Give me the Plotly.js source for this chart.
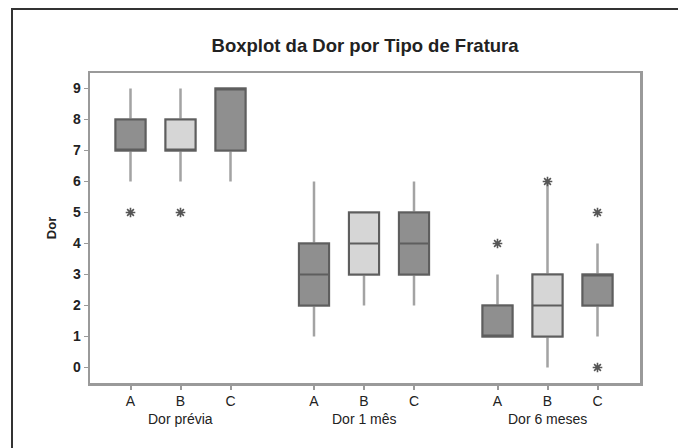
<!DOCTYPE html>
<html>
<head>
<meta charset="utf-8">
<script src="https://cdn.plot.ly/plotly-3.0.1.min.js"></script>
<style>html,body{margin:0;padding:0;background:#fff}#chart{width:678px;height:448px}</style>
</head>
<body>
<div id="chart"></div>
<script>
// ---- data ----
const groups = ['Dor prévia', 'Dor 1 mês', 'Dor 6 meses'];
const categories = ['A', 'B', 'C'];
// stats per category, one value per group (Dor prévia, Dor 1 mês, Dor 6 meses)
const q1 = { A: [7, 2, 1], B: [7, 3, 1], C: [7, 3, 2] };
const median = { A: [7, 3, 1], B: [7, 4, 2], C: [9, 4, 3] };
const q3 = { A: [8, 4, 2], B: [8, 5, 3], C: [9, 5, 3] };
const lowerWhisker = { A: [6, 1, 1], B: [6, 2, 0], C: [6, 2, 1] };
const upperWhisker = { A: [9, 6, 3], B: [9, 5, 6], C: [9, 6, 4] };
// outliers
const outlierGroup = [0, 0, 2, 2, 2, 2];
const outlierCat = [0, 1, 0, 1, 2, 2];
const outlierValue = [5, 5, 4, 6, 5, 0];

// ---- layout helpers ----
const groupStep = 3.67;
const pos = (g, c) => g * groupStep + c;
const fills = { A: '#8f8f8f', B: '#d6d6d6', C: '#8f8f8f' };
const FONT = 'Liberation Sans, Arial, sans-serif';

const traces = [];
categories.forEach((cat, ci) => {
  const xs = groups.map((g, gi) => pos(gi, ci));
  // whiskers (lighter grey)
  traces.push({
    type: 'box', x: xs, q1: q1[cat], median: median[cat], q3: q3[cat],
    lowerfence: lowerWhisker[cat], upperfence: upperWhisker[cat],
    width: 0.6, whiskerwidth: 0, fillcolor: fills[cat],
    line: { color: '#a3a3a3', width: 2.5 }, boxpoints: false,
    hoverinfo: 'skip', showlegend: false
  });
  // box body (darker outline + median)
  traces.push({
    type: 'box', x: xs, q1: q1[cat], median: median[cat], q3: q3[cat],
    lowerfence: q1[cat], upperfence: q3[cat],
    width: 0.6, whiskerwidth: 0, fillcolor: fills[cat],
    line: { color: '#5e5e5e', width: 2 }, boxpoints: false,
    name: cat, showlegend: false
  });
});
traces.push({
  type: 'scatter', mode: 'markers',
  x: outlierValue.map((v, i) => pos(outlierGroup[i], outlierCat[i])),
  y: outlierValue,
  marker: { symbol: 'asterisk-open', size: 8, color: '#555', line: { color: '#555', width: 1.6 } },
  showlegend: false, hoverinfo: 'y'
});

const tickvals = [], ticktext = [];
groups.forEach((g, gi) => categories.forEach((c, ci) => { tickvals.push(pos(gi, ci)); ticktext.push(c); }));

const annotations = groups.map((g, gi) => ({
  text: g, x: pos(gi, 1), xref: 'x', y: (383 - 419) / 310, yref: 'paper',
  yanchor: 'middle', showarrow: false,
  font: { family: FONT, size: 14, color: '#222' }
}));

const layout = {
  width: 678, height: 448,
  margin: { l: 90, r: 38, t: 73, b: 65 },
  paper_bgcolor: '#fff', plot_bgcolor: '#fff',
  boxmode: 'overlay',
  font: { family: FONT, color: '#222' },
  title: {
    text: '<b>Boxplot da Dor por Tipo de Fratura</b>',
    x: 0.5385, xanchor: 'center', y: 1 - 46 / 448, yanchor: 'middle',
    font: { size: 18.5, color: '#222' }
  },
  xaxis: {
    range: [-0.81, 10.19], tickvals: tickvals, ticktext: ticktext,
    showgrid: false, zeroline: false,
    showline: true, mirror: true, linecolor: '#9a9a9a', linewidth: 2.5,
    ticks: 'outside', ticklen: 4, tickwidth: 2, tickcolor: '#9a9a9a',
    tickfont: { size: 14, color: '#222' }
  },
  yaxis: {
    range: [-0.5, 9.5], tickvals: [0,1,2,3,4,5,6,7,8,9],
    showgrid: false, zeroline: false,
    showline: true, mirror: true, linecolor: '#9a9a9a', linewidth: 2.5,
    ticks: 'outside', ticklen: 4, tickwidth: 1.5, tickcolor: '#9a9a9a',
    tickfont: { size: 14, color: '#222', weight: 'bold' },
    title: { text: '<b>Dor</b>', standoff: 14, font: { size: 13, color: '#222' } }
  },
  annotations: annotations,
  shapes: [{
    type: 'rect', xref: 'paper', yref: 'paper',
    x0: (12 - 90) / 550, x1: (690 - 90) / 550,
    y0: (383 - 460) / 310, y1: (383 - 9) / 310,
    line: { color: '#333', width: 2 }, fillcolor: 'rgba(0,0,0,0)', layer: 'below'
  }]
};

Plotly.newPlot('chart', traces, layout, { staticPlot: true, displayModeBar: false });
</script>
</body>
</html>
